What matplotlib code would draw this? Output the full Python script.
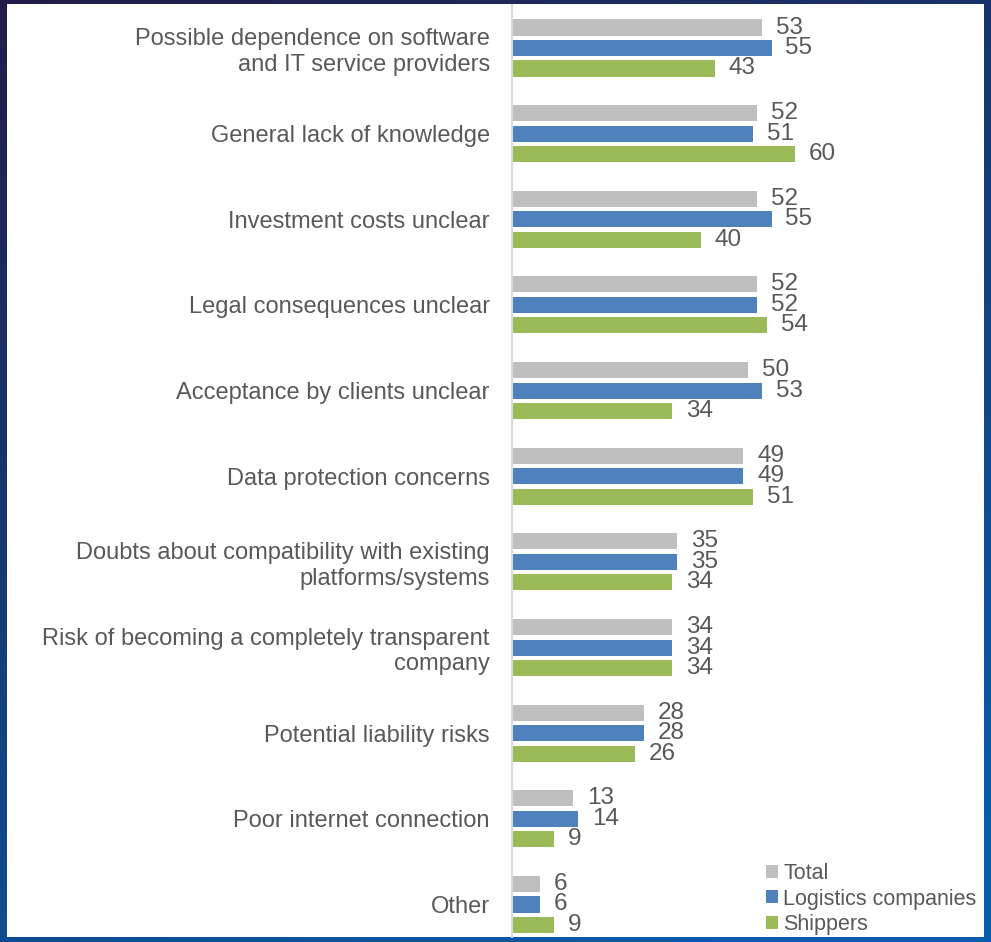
import numpy as np
import matplotlib.pyplot as plt
from matplotlib.patches import Rectangle

plt.rcParams['font.family'] = ['Liberation Sans', 'DejaVu Sans']

categories = ["Possible dependence on software\nand IT service providers",
              "General lack of knowledge",
              "Investment costs unclear",
              "Legal consequences unclear",
              "Acceptance by clients unclear",
              "Data protection concerns",
              "Doubts about compatibility with existing\nplatforms/systems",
              "Risk of becoming a completely transparent\ncompany",
              "Potential liability risks",
              "Poor internet connection",
              "Other"]
total = [53, 52, 52, 52, 50, 49, 35, 34, 28, 13, 6]
logistics = [55, 51, 55, 52, 53, 49, 35, 34, 28, 14, 6]
shippers = [43, 60, 40, 54, 34, 51, 34, 34, 26, 9, 9]
series_names = ["Total", "Logistics companies", "Shippers"]
colors = ["#bfbfbf", "#4f81bd", "#9bbb59"]
txt = "#595959"

W, H = 991, 942
fig = plt.figure(figsize=(W / 100, H / 100), dpi=100)

# dark blue backdrop with a soft gradient
bg = fig.add_axes([0, 0, 1, 1], zorder=-10)
gx, gy = np.meshgrid(np.linspace(0, 1, 200), np.linspace(0, 1, 200))
t = np.clip(0.75 * gy + 0.35 * gx, 0, 1)
c0 = np.array([0x22, 0x1d, 0x48]) / 255
c1 = np.array([0x08, 0x5c, 0xab]) / 255
img = c0[None, None, :] * (1 - t[..., None]) + c1[None, None, :] * t[..., None]
bg.imshow(img, extent=[0, 1, 0, 1], aspect='auto')
bg.set_axis_off()
fig.patches.append(Rectangle((7 / W, 1 - 937 / H), (984 - 7) / W, (937 - 4) / H,
                             transform=fig.transFigure, facecolor="white",
                             edgecolor="none", zorder=-5))

ax = fig.add_axes([512 / W, 1 - 937 / H, (984 - 512) / W, (937 - 5) / H])
ax.patch.set_alpha(0)

y = np.arange(len(categories))
off = 0.2393
h = 0.187
for k, vals in enumerate([total, logistics, shippers]):
    pos = y + (k - 1) * off
    ax.barh(pos, vals, height=h, color=colors[k], label=series_names[k])
    for p, v in zip(pos, vals):
        ax.annotate(str(v), (v, p), xytext=(10, 0), textcoords="offset points",
                    ha="left", va="center", fontsize=17.5, color=txt)

ax.set_xlim(0, 100)
ax.set_ylim(10.3795, -0.502)
ax.set_yticks(y)
ax.set_yticklabels(categories, fontsize=17, color=txt, ha="right")
ax.tick_params(axis="y", length=0, pad=16)
ax.set_xticks([])
for s in ["top", "right", "bottom"]:
    ax.spines[s].set_visible(False)
ax.spines["left"].set_color("#d9d9d9")
ax.spines["left"].set_linewidth(1.5)

leg = ax.legend(loc="lower right", bbox_to_anchor=(0.989, 0.0), frameon=False,
                fontsize=15.5, handlelength=0.55, handleheight=0.55,
                handletextpad=0.25, labelspacing=0.2, borderaxespad=0.0,
                borderpad=0.1)
for t_ in leg.get_texts():
    t_.set_color(txt)

fig.savefig("out.png", dpi=100)
